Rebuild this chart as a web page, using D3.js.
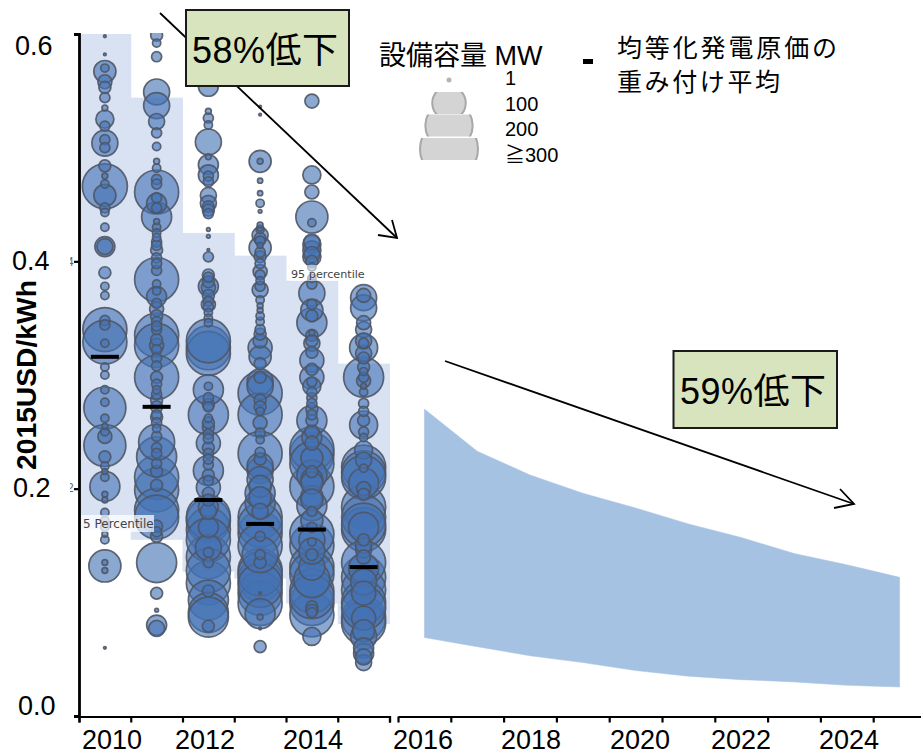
<!DOCTYPE html>
<html><head><meta charset="utf-8">
<script src="https://cdn.jsdelivr.net/npm/d3@7"></script>
<style>
html,body{margin:0;padding:0;background:#fff;overflow:hidden}
svg{display:block}
text{font-family:"Liberation Sans","Noto Sans CJK JP",sans-serif;fill:#000}
</style></head><body><div id="chart"></div>
<script>
// ---------- data ----------
const years = [2010,2011,2012,2013,2014,2015];
const band95 = [0.6,0.544,0.425,0.405,0.383,0.31];
const band05 = [0.164,0.155,0.127,0.121,0.099,0.081];
const weightedMean = [0.316,0.272,0.19,0.169,0.164,0.131];

const lcoe2010 = [.598,.582,.567,.570,.558,.553,.544,.535,.525,.519,.504,.507,.500,.484,.466,.468,.458,.447,.443,.430,.413,.413,.390,.378,.370,.340,.329,.348,.344,.328,.307,.300,.287,.276,.271,.238,.246,.228,.202,.210,.179,.166,.155,.132,.135,.128,.060,.262,.255,.250,.220,.215,.195,.190,.172,.160,.475];
const mw2010   = [1,1,72,10,29,21,15,5,48,15,100,15,15,21,300,10,72,15,10,10,59,38,21,10,10,287,287,15,15,10,10,10,10,10,261,261,29,21,133,10,10,10,10,152,5,5,1,10,5,10,10,5,5,5,10,5,5];
const lcoe2011 = [.599,.592,.580,.549,.537,.523,.513,.501,.488,.482,.461,.439,.451,.472,.435,.417,.410,.403,.384,.392,.369,.363,.335,.326,.340,.326,.298,.298,.287,.278,.265,.253,.241,.228,.236,.199,.203,.210,.181,.175,.158,.135,.108,.093,.080,.077,.468,.456,.447,.430,.425,.421,.414,.398,.380,.374,.358,.352,.347,.343,.331,.322,.315,.308,.292,.283,.272,.263,.258,.246,.231,.222,.215,.167,.162];
const mw2011   = [21,10,15,100,100,38,15,10,5,10,287,133,59,15,5,15,21,15,287,15,59,15,287,287,15,29,287,21,10,21,15,10,192,237,15,287,21,287,287,287,21,237,21,2,59,38,15,15,15,10,10,10,15,15,10,10,29,21,15,15,21,15,15,15,15,15,21,21,15,15,15,15,21,21,15];
const lcoe2012 = [.554,.526,.505,.492,.485,.476,.458,.451,.428,.422,.410,.404,.386,.378,.377,.362,.355,.324,.319,.287,.290,.265,.274,.254,.240,.231,.216,.221,.201,.184,.172,.164,.166,.140,.144,.117,.102,.091,.087,.079,.532,.520,.475,.470,.448,.445,.442,.388,.382,.370,.365,.360,.350,.346,.330,.280,.272,.262,.258,.248,.244,.236,.226,.212,.207,.196,.190,.180,.175,.155,.128,.148,.135,.110];
const mw2012   = [59,15,100,5,59,59,38,38,2,2,1,15,15,59,29,29,10,287,287,133,10,237,21,21,85,15,133,15,85,59,287,287,59,287,15,287,237,237,237,21,5,10,15,15,21,21,15,21,21,21,15,15,10,10,287,15,15,10,21,15,15,21,15,21,15,21,21,38,287,287,287,100,15,21];
const lcoe2013 = [.536,.529,.488,.488,.471,.460,.451,.444,.429,.423,.412,.414,.391,.375,.357,.347,.340,.324,.316,.298,.294,.284,.265,.268,.243,.231,.232,.216,.202,.187,.180,.161,.158,.142,.142,.128,.120,.108,.099,.108,.087,.077,.061,.432,.428,.420,.418,.408,.404,.398,.388,.383,.378,.366,.361,.352,.336,.330,.310,.290,.278,.272,.258,.249,.226,.220,.208,.196,.192,.175,.168,.150,.135,.125,.115,.090];
const mw2013   = [1,1,72,5,4,4,10,2,5,38,72,5,29,38,5,10,15,85,72,21,100,287,287,10,10,287,15,100,72,133,38,287,15,192,15,287,287,287,287,1,5,1,21,5,10,21,15,15,21,15,15,10,15,10,5,10,21,29,21,100,21,21,29,15,21,100,100,133,72,287,287,287,21,287,287,133];
const lcoe2014 = [.541,.476,.461,.439,.434,.417,.406,.404,.372,.357,.346,.337,.328,.313,.298,.290,.280,.260,.250,.260,.230,.227,.208,.202,.193,.166,.150,.153,.142,.131,.131,.099,.096,.089,.070,.091,.415,.410,.400,.395,.385,.380,.362,.352,.335,.330,.320,.305,.294,.285,.275,.270,.265,.245,.240,.235,.222,.215,.212,.205,.190,.185,.180,.172,.160,.155,.145,.125,.120,.110,.105,.093];
const mw2014   = [29,48,29,152,10,38,38,48,100,72,133,5,38,85,85,48,15,133,29,21,287,72,72,287,72,15,287,10,21,287,100,287,21,287,48,15,48,48,21,10,10,15,15,21,21,21,21,21,15,15,15,21,15,59,29,287,287,21,133,72,72,133,15,72,287,100,100,287,192,287,287,21];
const lcoe2015 = [.370,.368,.359,.346,.324,.319,.307,.298,.298,.290,.275,.260,.256,.234,.219,.218,.214,.184,.164,.166,.146,.122,.111,.108,.086,.082,.086,.055,.047,.340,.330,.328,.315,.303,.295,.285,.268,.250,.245,.225,.210,.205,.200,.195,.175,.168,.155,.150,.140,.135,.130,.118,.100,.095,.075,.070,.060,.052];
const mw2015   = [29,100,100,29,116,38,21,237,15,5,15,21,116,48,287,10,287,287,287,133,38,287,287,85,287,287,85,59,38,38,38,15,21,10,29,10,15,15,10,38,287,133,29,21,287,287,21,38,29,287,133,100,287,287,72,100,59,38];

const projYears = [2016,2017,2018,2019,2020,2021,2022,2023,2024,2025];
const projHigh = [.270,.233,.212,.196,.183,.169,.157,.143,.133,.122];
const projLow  = [.069,.061,.053,.047,.040,.035,.032,.030,.027,.0255];

const yTicks = [0,0.2,0.4,0.6];
const yTickLabels = ["0.0","0.2","0.4","0.6"];
const xLabelsLeft = ["2010","2012","2014"];
const xLabelsRight = ["2016","2018","2020","2022","2024"];
const legendMW = [100,200,300];
const legendLabels = ["1","100","200","≧300"];

// ---------- layout ----------
const W=921,H=755;
const y=d3.scaleLinear().domain([0,0.6]).range([716,34]);
const xL=d3.scaleLinear().domain([2010,2016]).range([79,389.5]);
const xR=d3.scaleLinear().domain([2016,2026]).range([398,926]);
const r=d3.scaleSqrt().domain([0,300]).range([0,22.5]);
const rLegend=d3.scaleSqrt().domain([0,300]).range([0,29]);

const svg=d3.select("#chart").append("svg").attr("width",W).attr("height",H);
const defs=svg.append("defs");
defs.append("clipPath").attr("id","plotClip").append("rect").attr("x",79).attr("y",33).attr("width",320).attr("height",690);
defs.append("clipPath").attr("id","stubClip").append("rect").attr("x",70).attr("y",250).attr("width",4).attr("height",250);
const blur=defs.append("filter").attr("id","soft").attr("x","-5%").attr("y","-5%").attr("width","110%").attr("height","110%");
blur.append("feGaussianBlur").attr("stdDeviation",0.45);

// percentile band
svg.append("g").selectAll("rect").data(years).join("rect")
  .attr("x",d=>xL(d)).attr("width",d=>xL(d+1)-xL(d)+0.5)
  .attr("y",(d,i)=>y(band95[i])).attr("height",(d,i)=>y(band05[i])-y(band95[i]))
  .attr("fill","#d8e2f3");

// projected band
const area=d3.area().x(d=>xR(d.year+0.5)).y0(d=>y(d.low)).y1(d=>y(d.high));
svg.append("path").datum(projYears.map((yr,i)=>({year:yr,high:projHigh[i],low:projLow[i]})))
  .attr("d",area).attr("fill","#a6c2e3").attr("stroke","#a6c2e3").attr("stroke-width",0.5);

// bubbles
const lcoeByYear=[lcoe2010,lcoe2011,lcoe2012,lcoe2013,lcoe2014,lcoe2015];
const mwByYear=[mw2010,mw2011,mw2012,mw2013,mw2014,mw2015];
const bubbles=[];
years.forEach((yr,i)=>lcoeByYear[i].forEach((v,j)=>bubbles.push({year:yr,v,mw:mwByYear[i][j]})));
bubbles.sort((a,b)=>b.mw-a.mw);
svg.append("g").attr("clip-path","url(#plotClip)").append("g").attr("filter","url(#soft)")
  .selectAll("circle").data(bubbles).join("circle")
  .attr("cx",d=>xL(d.year+0.5)).attr("cy",d=>y(d.v)).attr("r",d=>r(d.mw))
  .attr("fill","#4472b4").attr("fill-opacity",0.62)
  .attr("stroke","#4f5766").attr("stroke-width",1.7).attr("stroke-opacity",0.9);

// small band labels
function tag(x0,y0,w,h,tx,ty,s,col,op,fs){
  svg.append("rect").attr("x",x0).attr("y",y0).attr("width",w).attr("height",h).attr("fill","#fff").attr("opacity",op);
  svg.append("text").attr("x",tx).attr("y",ty).text(s).style("font-family","'DejaVu Sans'").style("font-size",fs+"px").style("fill",col);
}
tag(81,515,73,17,83,528,"5 Percentile","#444",0.72,12);
tag(290,265,76,16,291,278,"95 percentile","#444",0.55,11.2);

// mean bars
svg.append("g").selectAll("rect").data(years).join("rect")
  .attr("x",d=>xL(d+0.5)-14).attr("width",28)
  .attr("y",(d,i)=>y(weightedMean[i])-2).attr("height",4).attr("fill","#000");

// axes
const axisStyle=g=>{g.selectAll("path,line").attr("stroke","#000").attr("stroke-width",2.2);g.select(".domain").attr("fill","none");};
svg.append("g").attr("transform","translate(79,0)")
  .call(d3.axisLeft(y).tickValues(yTicks).tickSize(5).tickFormat("")).call(axisStyle)
  .select(".domain").attr("stroke-width",2.8);
svg.append("g").attr("transform","translate(0,716.5)")
  .call(d3.axisBottom(xL).tickValues(d3.range(2010,2017)).tickSize(6).tickSizeOuter(6).tickFormat("")).call(axisStyle);
svg.append("g").attr("transform","translate(0,716.5)")
  .call(d3.axisBottom(xR).tickValues(d3.range(2016,2026)).tickSize(6).tickSizeOuter(0).tickFormat("")).call(axisStyle);

// clipped remnants of the source chart's own tick labels, left of the axis
svg.append("g").attr("clip-path","url(#stubClip)").selectAll("text").data(["4","2"]).join("text")
  .attr("x",67).attr("y",(d,i)=>[266,492][i]).text(d=>d).style("font-size","12px").style("fill","#666");

// tick labels (hand-placed in the original)
const yLabelX=[18,13,12,15], yLabelBase=[715,497,270,55];
svg.append("g").selectAll("text").data(yTickLabels).join("text")
  .attr("x",(d,i)=>yLabelX[i]).attr("y",(d,i)=>yLabelBase[i]).text(d=>d).style("font-size","27px");
const xLabLeftC=[112,205,313], xLabRightC=[423,531,640,741,849];
svg.append("g").selectAll("text").data(xLabelsLeft).join("text")
  .attr("x",(d,i)=>xLabLeftC[i]).attr("y",749).attr("text-anchor","middle").text(d=>d).style("font-size","27px");
svg.append("g").selectAll("text").data(xLabelsRight).join("text")
  .attr("x",(d,i)=>xLabRightC[i]).attr("y",749).attr("text-anchor","middle").text(d=>d).style("font-size","27px");

// y title
svg.append("text").attr("transform","translate(36,470) rotate(-90)")
  .text("2015USD/kWh").style("font-weight","bold").style("font-size","27px").attr("textLength",190).attr("lengthAdjust","spacingAndGlyphs");

// arrows
function arrow(x1,y1,x2,y2,a1,a2,a3,a4,w){
  const g=svg.append("g").attr("stroke","#000").attr("stroke-width",w).attr("fill","none");
  g.append("line").attr("x1",x1).attr("y1",y1).attr("x2",x2).attr("y2",y2);
  g.append("polyline").attr("points",`${a1},${a2} ${x2},${y2} ${a3},${a4}`);
}
arrow(160,13,397,238,392,220,378,235,1.8);
arrow(445,361,854,504,840,489,834,508,1.8);

// callouts
function callout(x0,y0,w,h,tx,ty,s){
  svg.append("rect").attr("x",x0).attr("y",y0).attr("width",w).attr("height",h).attr("fill","#d7e4bd").attr("stroke","#1a1a1a").attr("stroke-width",2);
  svg.append("text").attr("x",tx).attr("y",ty).text(s).style("font-size","36px").attr("textLength",146);
}
callout(186,10,163,76,192,63,"58%低下");
callout(673.5,351,163.5,77,680,404,"59%低下");

// legend
svg.append("text").attr("x",379).attr("y",65).text("設備容量 MW").style("font-size","27px");
svg.append("circle").attr("cx",449).attr("cy",80).attr("r",2.5).attr("fill","#b4b4b4");
const legY=[103,125.5,149];
legendMW.forEach((m,i)=>{
  defs.append("clipPath").attr("id","leg"+i).append("rect").attr("x",400).attr("y",legY[i]-11).attr("width",100).attr("height",22);
  svg.append("circle").attr("cx",449).attr("cy",legY[i]).attr("r",rLegend(m))
    .attr("clip-path",`url(#leg${i})`).attr("fill","#d4d4d4").attr("stroke","#a8a8a8").attr("stroke-width",2);
});
const legTextBase=[85,111,136,162];
svg.append("g").selectAll("text").data(legendLabels).join("text")
  .attr("x",505).attr("y",(d,i)=>legTextBase[i]).text(d=>d).style("font-size","20px");
svg.append("rect").attr("x",583).attr("y",59).attr("width",10).attr("height",5).attr("fill","#000");
svg.append("text").attr("x",617).attr("y",57).text("均等化発電原価の").style("font-size","25px").attr("textLength",220);
svg.append("text").attr("x",617).attr("y",91).text("重み付け平均").style("font-size","25px").attr("textLength",163);
</script></body></html>
